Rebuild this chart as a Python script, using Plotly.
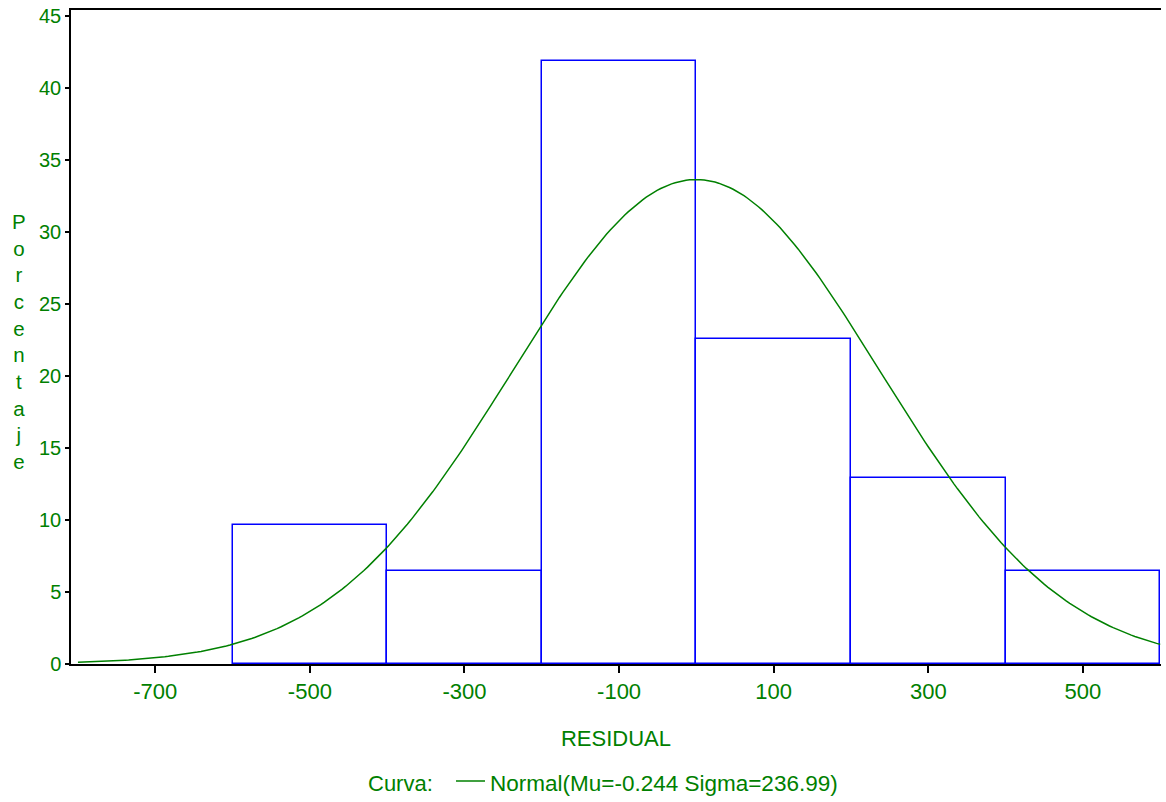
import numpy as np
import plotly.graph_objects as go

# Histogram data (percent per bin)
bin_left = [-600, -400, -200, 0, 200, 400]
bin_width = 200
percent = [9.68, 6.45, 41.94, 22.58, 12.90, 6.45]

# Fitted normal curve parameters (from legend)
mu = -0.244
sigma = 236.99
curve_start = -800
curve_end = 600

x_ticks = [-700, -500, -300, -100, 100, 300, 500]
x_tick_text = ["-700", "-500", "-300", "-100", "100", "300", "500"]
y_ticks = [0, 5, 10, 15, 20, 25, 30, 35, 40, 45]

GREEN = "#008000"
BLUE = "#0000FF"
FONT = "Arial, Liberation Sans, sans-serif"

centers = [b + bin_width / 2 for b in bin_left]

xc = np.linspace(curve_start, curve_end, 300)
yc = 100 * bin_width * np.exp(-0.5 * ((xc - mu) / sigma) ** 2) / (sigma * np.sqrt(2 * np.pi))

fig = go.Figure()
fig.add_trace(go.Bar(
    x=centers, y=percent, width=bin_width,
    marker=dict(color="rgba(0,0,0,0)", line=dict(color=BLUE, width=1.5)),
    showlegend=False, hoverinfo="x+y",
))
fig.add_trace(go.Scatter(
    x=xc, y=yc, mode="lines",
    line=dict(color=GREEN, width=1.5),
    showlegend=False,
))

fig.update_layout(
    width=1166, height=802,
    margin=dict(l=71, r=5, t=10, b=138),
    plot_bgcolor="white", paper_bgcolor="white",
    font=dict(family=FONT, color=GREEN, size=20),
    bargap=0,
    xaxis=dict(
        range=[-809, 601], tickvals=x_ticks, ticktext=x_tick_text,
        showgrid=False, zeroline=False, layer="above traces",
        showline=True, linecolor="black", linewidth=1.5, mirror=True,
        ticks="outside", ticklen=7, tickcolor="black", tickwidth=1.5,
        tickfont=dict(size=22, color=GREEN, family=FONT),
        title=dict(text="RESIDUAL", font=dict(size=22, color=GREEN, family=FONT), standoff=27),
    ),
    yaxis=dict(
        range=[0, 45.45], tickvals=y_ticks,
        showgrid=False, zeroline=False, layer="above traces",
        showline=True, linecolor="black", linewidth=1.5,
        ticks="outside", ticklen=4, tickcolor="black", tickwidth=1.5,
        tickfont=dict(size=20, color=GREEN, family=FONT),
    ),
)

# Vertical stacked y-axis title
fig.add_annotation(
    text="<br>".join(list("Porcentaje")),
    xref="paper", yref="paper", x=-0.048, y=0.493,
    xanchor="center", yanchor="middle", showarrow=False,
    font=dict(size=20.5, color=GREEN, family=FONT), align="center",
)

# Legend
fig.add_annotation(
    text="Curva:", xref="paper", yref="paper",
    x=(435 - 71) / 1090, y=-(783 - 664) / 654,
    xanchor="right", yanchor="middle", showarrow=False,
    font=dict(size=22, color=GREEN, family=FONT),
)
fig.add_shape(
    type="line", xref="paper", yref="paper",
    x0=(456 - 71) / 1090, x1=(485 - 71) / 1090,
    y0=-(781 - 664) / 654, y1=-(781 - 664) / 654,
    line=dict(color=GREEN, width=1.5),
)
fig.add_annotation(
    text=f"Normal(Mu={mu} Sigma={sigma})", xref="paper", yref="paper",
    x=(488 - 71) / 1090, y=-(783 - 664) / 654,
    xanchor="left", yanchor="middle", showarrow=False,
    font=dict(size=22.5, color=GREEN, family=FONT),
)

fig.write_html(
    "out.html",
    config={"displayModeBar": False},
    post_script="document.body.style.margin='0';document.body.style.overflow='hidden';",
)
